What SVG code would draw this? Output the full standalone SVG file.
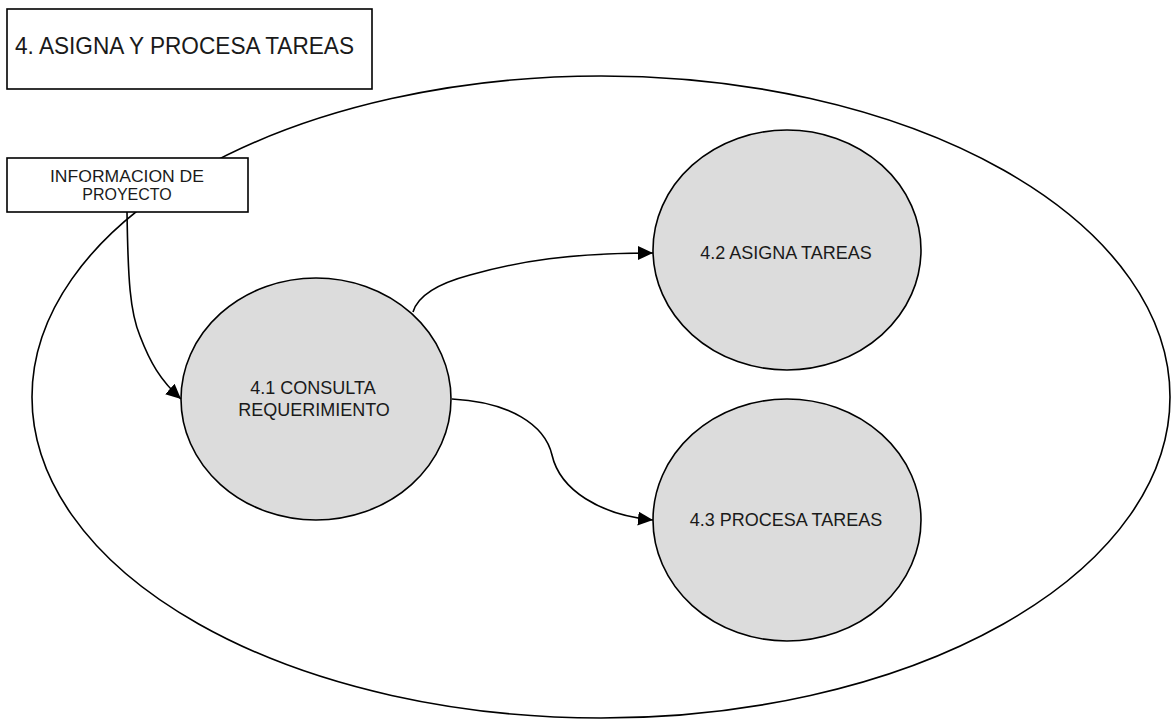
<svg xmlns="http://www.w3.org/2000/svg" width="1172" height="719" viewBox="0 0 1172 719">
  <style>
    .frame { fill: none; stroke: #000; stroke-width: 1.6; }
    .box { fill: #fff; stroke: #000; stroke-width: 1.6; }
    .proc { fill: #dcdcdc; stroke: #000; stroke-width: 1.6; }
    .flow { fill: none; stroke: #000; stroke-width: 1.6; }
    text { font-family: "Liberation Sans", Arial, sans-serif; fill: #1a1a1a; }
    .lbl { font-size: 18px; text-anchor: middle; }
    .ext { font-size: 16px; text-anchor: middle; }
    .title { font-size: 24px; }
  </style>
  <defs>
    <marker id="arrow" markerUnits="userSpaceOnUse" markerWidth="16" markerHeight="16" refX="15" refY="7" orient="auto">
      <path d="M0,0 L15,7 L0,14 Z" fill="#000"/>
    </marker>
  </defs>

  <rect width="1172" height="719" fill="#fff"/>

  <!-- process boundary -->
  <ellipse id="boundary" class="frame" cx="601" cy="397" rx="569" ry="321"/>

  <g id="title">
    <rect class="box" x="7" y="9" width="365" height="80"/>
    <text class="title" x="15" y="54" textLength="339" lengthAdjust="spacingAndGlyphs">4. ASIGNA Y PROCESA TAREAS</text>
  </g>

  <g id="info-proyecto">
    <rect class="box" x="7" y="158" width="241" height="54"/>
    <text class="ext" x="127" y="182" textLength="154" lengthAdjust="spacingAndGlyphs">INFORMACION DE</text>
    <text class="ext" x="127" y="200">PROYECTO</text>
  </g>

  <g id="p41">
    <ellipse class="proc" cx="316" cy="399" rx="135" ry="121"/>
    <text class="lbl" x="313" y="394">4.1 CONSULTA</text>
    <text class="lbl" x="314" y="416">REQUERIMIENTO</text>
  </g>

  <g id="p42">
    <ellipse class="proc" cx="787" cy="250" rx="134" ry="120"/>
    <text class="lbl" x="786" y="259">4.2 ASIGNA TAREAS</text>
  </g>

  <g id="p43">
    <ellipse class="proc" cx="787" cy="520" rx="134" ry="121"/>
    <text class="lbl" x="786" y="526">4.3 PROCESA TAREAS</text>
  </g>

  <g id="connectors">
    <path class="flow" marker-end="url(#arrow)" d="M127,212 C128,280 130,312 140,336 C150,362 160,380 181,399"/>
    <path class="flow" marker-end="url(#arrow)" d="M413,312 C418,295 440,283 470,275 C520,261 570,253 653,253"/>
    <path class="flow" marker-end="url(#arrow)" d="M452,399 C510,402 545,425 552,455 C560,490 600,515 653,520"/>
  </g>
</svg>
